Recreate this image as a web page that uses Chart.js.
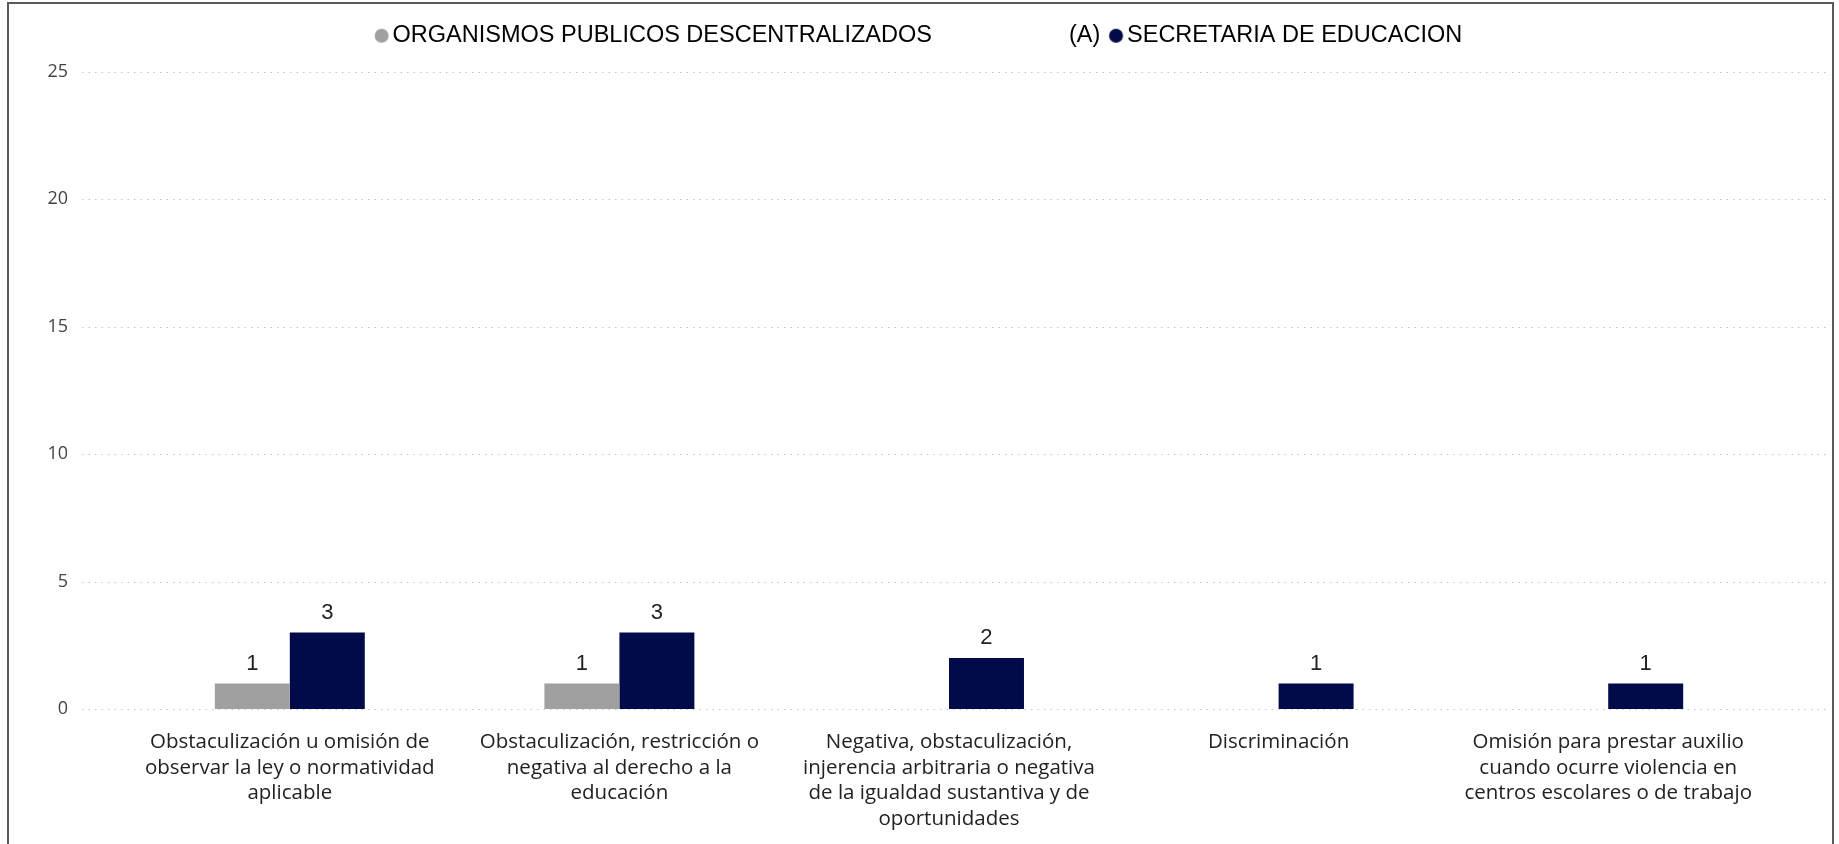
<!DOCTYPE html>
<html>
<head>
<meta charset="utf-8">
<script src="https://cdn.jsdelivr.net/npm/chart.js@4.4.1/dist/chart.umd.min.js"></script>
<style>
  html, body { margin: 0; padding: 0; background: #fff; overflow: hidden; }
  #wrap { position: relative; width: 1839px; height: 844px; }
  #marco { position: absolute; left: 7px; top: 2px; width: 1827px; height: 870px; border: 2px solid #5a5a5a; box-sizing: border-box; pointer-events: none; }
</style>
</head>
<body>
<div id="wrap">
  <canvas id="grafica" width="1839" height="844"></canvas>
  <div id="marco"></div>
</div>
<script>
const categorias = [
  ["Obstaculización u omisión de", "observar la ley o normatividad", "aplicable"],
  ["Obstaculización, restricción o", "negativa al derecho a la", "educación"],
  ["Negativa, obstaculización,", "injerencia arbitraria o negativa", "de la igualdad sustantiva y de", "oportunidades"],
  ["Discriminación"],
  ["Omisión para prestar auxilio", "cuando ocurre violencia en", "centros escolares o de trabajo"]
];
const series = ["ORGANISMOS PUBLICOS DESCENTRALIZADOS", "SECRETARIA DE EDUCACION"];
const notaSerie = "(A)";
const organismos = [1, 1, null, null, null];
const secretaria = [3, 3, 2, 1, 1];
const ticksY = [0, 5, 10, 15, 20, 25];

const colores = ["#a0a0a0", "#020b4a"];

// circulito de la leyenda, corrido a la derecha para que quede pegado al texto
function punto(color) {
  const c = document.createElement("canvas");
  c.width = 30;
  c.height = 16;
  const g = c.getContext("2d");
  g.fillStyle = color;
  g.beginPath();
  g.arc(17.75, 8, 7, 0, Math.PI * 2);
  g.fill();
  return c;
}

// lineas punteadas del fondo, un poco mas anchas que el area de barras
const rejilla = {
  id: "rejilla",
  beforeDatasetsDraw(chart) {
    const ctx = chart.ctx;
    const y = chart.scales.y;
    ctx.save();
    ctx.strokeStyle = "#c4c4c4";
    ctx.lineWidth = 1;
    ctx.setLineDash([1.5, 5]);
    ticksY.forEach(v => {
      const py = Math.round(y.getPixelForValue(v)) + 0.5;
      ctx.beginPath();
      ctx.moveTo(82, py);
      ctx.lineTo(1826, py);
      ctx.stroke();
    });
    ctx.restore();
  }
};

// valores encima de cada barra
const etiquetas = {
  id: "etiquetas",
  afterDatasetsDraw(chart) {
    const ctx = chart.ctx;
    ctx.save();
    ctx.font = "22px 'Liberation Sans', Arial, sans-serif";
    ctx.fillStyle = "#222";
    ctx.textAlign = "center";
    ctx.textBaseline = "middle";
    chart.data.datasets.forEach((ds, i) => {
      chart.getDatasetMeta(i).data.forEach((bar, j) => {
        if (ds.data[j] == null) return;
        ctx.fillText(ds.data[j], bar.x, bar.y - 20);
      });
    });
    ctx.restore();
  }
};

// mas aire entre la leyenda y el area de la grafica
const espacioLeyenda = {
  id: "espacioLeyenda",
  beforeInit(chart) {
    const fitOriginal = chart.legend.fit;
    chart.legend.fit = function () {
      fitOriginal.bind(chart.legend)();
      this.height += 14;
    };
  }
};

const ctx = document.getElementById("grafica").getContext("2d");
new Chart(ctx, {
  type: "bar",
  data: {
    labels: categorias,
    datasets: [
      { label: series[0], data: organismos, backgroundColor: colores[0] },
      { label: series[1], data: secretaria, backgroundColor: colores[1] }
    ]
  },
  options: {
    responsive: false,
    animation: false,
    layout: { padding: { top: 13, right: 0, bottom: 0, left: 0 } },
    datasets: { bar: { categoryPercentage: 0.455, barPercentage: 1.0 } },
    plugins: {
      tooltip: { enabled: false },
      legend: {
        position: "top",
        align: "center",
        labels: {
          usePointStyle: true,
          boxWidth: 4,
          boxHeight: 14,
          padding: 11,
          color: "#111",
          font: { size: 23.5, family: "'Liberation Sans', Arial, sans-serif" },
          generateLabels(chart) {
            return chart.data.datasets.map((ds, i) => ({
              text: i === 0 ? ds.label + " ".repeat(21) + notaSerie : ds.label,
              fillStyle: colores[i],
              strokeStyle: colores[i],
              lineWidth: 0,
              pointStyle: punto(colores[i]),
              datasetIndex: i,
              hidden: false
            }));
          }
        }
      }
    },
    scales: {
      x: {
        afterFit(scale) { scale.height = 135; },
        grid: { display: false, drawTicks: false },
        border: { display: false },
        ticks: {
          autoSkip: false,
          maxRotation: 0,
          padding: 20,
          color: "#222",
          font: { size: 20.5, family: "'Open Sans', sans-serif", lineHeight: "25.8px" }
        }
      },
      y: {
        min: 0,
        max: 25,
        afterFit(scale) { scale.width = 125; },
        afterBuildTicks(scale) { scale.ticks = ticksY.map(v => ({ value: v })); },
        grid: { display: false, drawTicks: false },
        border: { display: false },
        ticks: {
          padding: 57,
          color: "#444",
          font: { size: 18, family: "'Open Sans', sans-serif" }
        }
      },
      // margen derecho como eje vacio, asi la leyenda queda centrada en todo el ancho
      margen: {
        position: "right",
        afterFit(scale) { scale.width = 66; },
        grid: { display: false, drawTicks: false },
        border: { display: false },
        ticks: { display: false }
      }
    }
  },
  plugins: [rejilla, etiquetas, espacioLeyenda]
});
</script>
</body>
</html>
